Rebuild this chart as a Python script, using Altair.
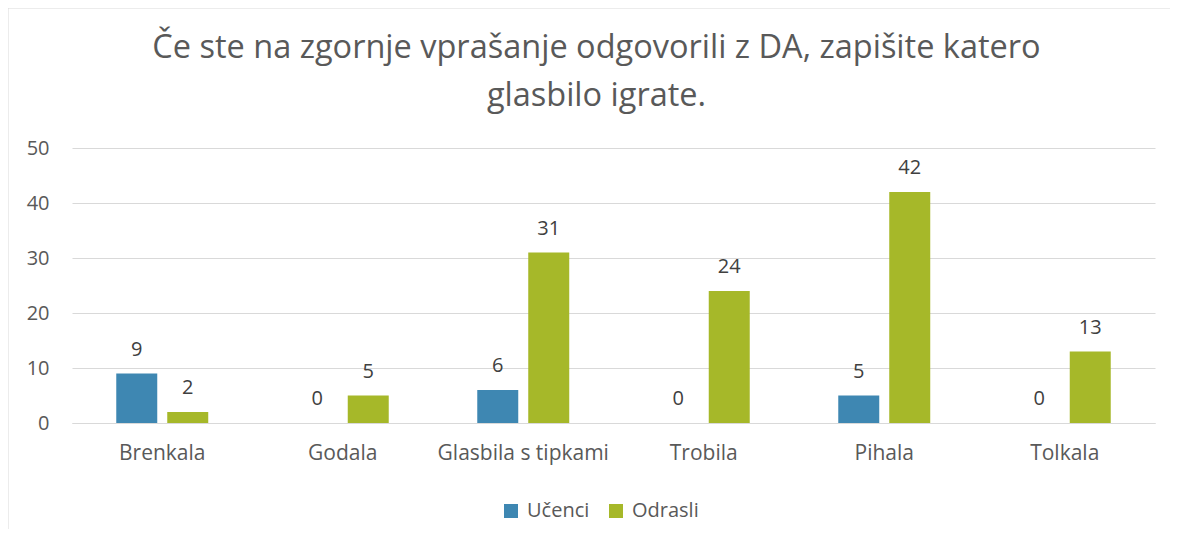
import altair as alt
import pandas as pd

kategorije = ["Brenkala", "Godala", "Glasbila s tipkami", "Trobila", "Pihala", "Tolkala"]
ucenci = [9, 0, 6, 0, 5, 0]
odrasli = [2, 5, 31, 24, 42, 13]
serije = ["Učenci", "Odrasli"]
barve = ["#3E87B2", "#A6B829"]
y_ticks = [0, 10, 20, 30, 40, 50]
naslov = ["Če ste na zgornje vprašanje odgovorili z DA, zapišite katero", "glasbilo igrate."]

rows = []
for k, u, o in zip(kategorije, ucenci, odrasli):
    rows.append({"kategorija": k, "serija": serije[0], "vrednost": u})
    rows.append({"kategorija": k, "serija": serije[1], "vrednost": o})
df = pd.DataFrame(rows)

FONT = "Open Sans"
GRAY = "#595959"

x = alt.X(
    "kategorija:N",
    sort=kategorije,
    scale=alt.Scale(paddingInner=0, paddingOuter=0),
    axis=alt.Axis(
        title=None, labelAngle=0, ticks=False, domainColor="#d9d9d9",
        labelPadding=19, labelFontSize=21, labelColor=GRAY, labelFont=FONT, grid=False,
    ),
)
xo = alt.XOffset("serija:N", sort=serije,
                 scale=alt.Scale(paddingInner=0.196, paddingOuter=0.868))
y = alt.Y(
    "vrednost:Q",
    scale=alt.Scale(domain=[0, 50]),
    axis=alt.Axis(
        values=y_ticks, title=None, domain=False, ticks=False,
        gridColor="#d9d9d9", labelPadding=23, labelFontSize=20,
        labelColor=GRAY, labelFont=FONT,
    ),
)
color = alt.Color(
    "serija:N",
    sort=serije,
    scale=alt.Scale(domain=serije, range=barve),
    legend=alt.Legend(
        title=None, orient="none", legendX=429, legendY=353, direction="horizontal",
        symbolType="square", symbolSize=196, labelFontSize=20, labelColor=GRAY,
        labelFont=FONT, columnPadding=16, labelOffset=6, symbolStrokeWidth=0,
    ),
)

bars = alt.Chart(df).mark_bar().encode(x=x, xOffset=xo, y=y, color=color)
labels = alt.Chart(df).mark_text(
    dy=-24, fontSize=20, color="#404040", baseline="middle", font=FONT
).encode(x=x, xOffset=xo, y=y, text="vrednost:Q")

frame_df = pd.DataFrame({"a": [0]})
left_border = alt.Chart(frame_df).mark_rule(color="#d9d9d9").encode(
    x=alt.value(-64), y=alt.value(-140), y2=alt.value(381)
)
top_border = alt.Chart(frame_df).mark_rule(color="#d9d9d9").encode(
    x=alt.value(-64), x2=alt.value(1098), y=alt.value(-140)
)

chart = alt.layer(bars, labels, left_border, top_border).properties(
    width=1083,
    height=275,
    autosize=alt.AutoSizeParams(type="none"),
    padding={"left": 64, "top": 140, "right": 15, "bottom": 106},
    title=alt.Title(
        naslov, fontSize=32.5, font=FONT, fontWeight="normal", color=GRAY,
        anchor="middle", dx=-17, offset=-131, lineHeight=48, baseline="alphabetic",
    ),
).configure_view(stroke=None)

chart.save("out.html", embed_options={"renderer": "svg", "actions": False})
